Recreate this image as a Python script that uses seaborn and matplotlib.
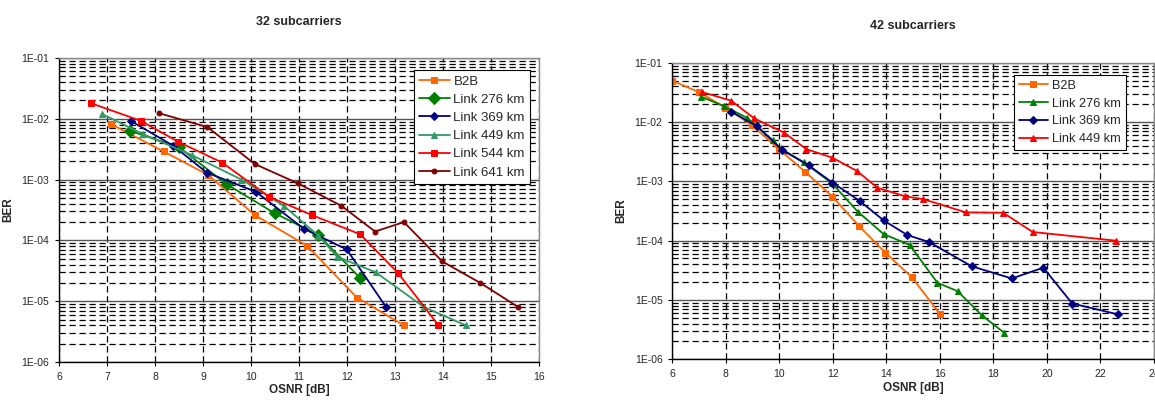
import numpy as np
import matplotlib
matplotlib.use("Agg")
import matplotlib.pyplot as plt
import seaborn as sns
from matplotlib.ticker import LogLocator, FixedLocator, FuncFormatter, NullFormatter

# ---- data: 32 subcarriers ----
b2b_32_x = [7.08, 8.18, 9.1, 10.08, 11.17, 12.2, 13.18]
b2b_32_y = [8.2e-3, 2.9e-3, 1.2e-3, 2.6e-4, 8.1e-5, 1.15e-5, 4e-6]
l276_32_x = [7.49, 8.5, 9.49, 10.49, 11.4, 12.27]
l276_32_y = [6.3e-3, 3.4e-3, 8.4e-4, 2.8e-4, 1.23e-4, 2.4e-5]
l369_32_x = [7.51, 8.38, 9.08, 10.1, 11.1, 11.99, 12.81]
l369_32_y = [9.1e-3, 3.6e-3, 1.3e-3, 6.3e-4, 1.55e-4, 7.1e-5, 8e-6]
l449_32_x = [6.9, 7.75, 8.78, 9.8, 10.68, 11.4, 11.79, 12.59, 13.6, 14.47]
l449_32_y = [1.2e-2, 5.6e-3, 2.5e-3, 1e-3, 3.7e-4, 1.2e-4, 5.4e-5, 3e-5, 8e-6, 4e-6]
l544_32_x = [6.67, 7.7, 8.48, 9.4, 10.38, 11.27, 12.27, 13.06, 13.9]
l544_32_y = [1.8e-2, 9.3e-3, 4.2e-3, 1.9e-3, 5.2e-4, 2.6e-4, 1.26e-4, 2.9e-5, 4e-6]
l641_32_x = [8.08, 9.09, 10.08, 10.97, 11.88, 12.58, 13.18, 13.98, 14.77, 15.56]
l641_32_y = [1.24e-2, 7.3e-3, 1.8e-3, 8.7e-4, 3.7e-4, 1.4e-4, 2.0e-4, 4.5e-5, 2e-5, 8e-6]

# ---- data: 42 subcarriers ----
b2b_42_x = [6.0, 7.0, 7.99, 8.99, 9.98, 10.97, 11.99, 12.98, 13.96, 14.96, 15.99]
b2b_42_y = [5e-2, 3.2e-2, 1.75e-2, 8.8e-3, 3.5e-3, 1.45e-3, 5.5e-4, 1.77e-4, 6.3e-5, 2.4e-5, 5.9e-6]
l276_42_x = [7.06, 7.93, 8.8, 9.77, 10.05, 10.91, 11.97, 12.93, 13.9, 14.87, 15.91, 16.67, 17.57, 18.4]
l276_42_y = [2.7e-2, 1.86e-2, 1.18e-2, 4.9e-3, 3.6e-3, 2.1e-3, 9.3e-4, 3.1e-4, 1.29e-4, 8.5e-5,
             1.95e-5, 1.4e-5, 5.5e-6, 2.8e-6]
l369_42_x = [8.21, 9.17, 10.1, 11.1, 11.99, 13.0, 13.9, 14.79, 15.59, 17.19, 18.69, 19.87, 20.95, 22.66]
l369_42_y = [1.5e-2, 8.5e-3, 3.4e-3, 1.86e-3, 9.5e-4, 4.7e-4, 2.2e-4, 1.24e-4, 9.5e-5, 3.7e-5,
             2.3e-5, 3.5e-5, 8.7e-6, 5.7e-6]
l449_42_x = [7.12, 8.2, 9.07, 10.19, 11.01, 11.99, 12.9, 13.67, 14.7, 15.39, 16.97, 18.37, 19.47, 22.57]
l449_42_y = [3.2e-2, 2.3e-2, 1.15e-2, 6.6e-3, 3.5e-3, 2.5e-3, 1.5e-3, 7.8e-4, 5.6e-4, 5e-4,
             3e-4, 2.95e-4, 1.4e-4, 1e-4]

series_32 = [
    ("B2B", b2b_32_x, b2b_32_y, "#FF6600", "s", 4),
    ("Link 276 km", l276_32_x, l276_32_y, "#008000", "D", 6),
    ("Link 369 km", l369_32_x, l369_32_y, "#000080", "D", 4.5),
    ("Link 449 km", l449_32_x, l449_32_y, "#339966", "^", 5),
    ("Link 544 km", l544_32_x, l544_32_y, "#FF0000", "s", 4.5),
    ("Link 641 km", l641_32_x, l641_32_y, "#800000", "o", 3.5),
]
series_42 = [
    ("B2B", b2b_42_x, b2b_42_y, "#FF6600", "s", 4.5),
    ("Link 276 km", l276_42_x, l276_42_y, "#008000", "^", 5),
    ("Link 369 km", l369_42_x, l369_42_y, "#000080", "D", 4.5),
    ("Link 449 km", l449_42_x, l449_42_y, "#FF0000", "^", 5),
]

sns.set_style("white")
plt.rcParams['font.family'] = ['Liberation Sans', 'DejaVu Sans']

fig = plt.figure(figsize=(11.55, 4), dpi=100)
ax1 = fig.add_axes([0.051, 0.095, 0.416, 0.76])
ax2 = fig.add_axes([0.582, 0.102, 0.417, 0.741])


def style_axes(ax, xlim, xstep, title, legend_anchor, fsize):
    ax.set_yscale("log")
    ax.set_ylim(1e-6, 1e-1)
    ax.set_xlim(*xlim)
    ax.xaxis.set_major_locator(FixedLocator(np.arange(xlim[0], xlim[1] + 0.01, xstep)))
    ax.yaxis.set_major_locator(FixedLocator([1e-6, 1e-5, 1e-4, 1e-3, 1e-2, 1e-1]))
    ax.yaxis.set_minor_locator(LogLocator(base=10, subs=np.arange(2, 10), numticks=20))
    ax.yaxis.set_minor_formatter(NullFormatter())
    ax.yaxis.set_major_formatter(FuncFormatter(lambda v, p: "1E-%02d" % round(-np.log10(v))))
    ax.xaxis.set_major_formatter(FuncFormatter(lambda v, p: "%d" % v))
    ax.grid(False)
    ax.grid(True, which="major", axis="y", color="#555555", lw=1.0, ls="-")
    ax.grid(True, which="minor", axis="y", color="black", lw=0.9, ls=(0, (5, 3)))
    ax.grid(True, which="major", axis="x", color="black", lw=0.9, ls=(0, (5, 3)))
    ax.set_axisbelow(True)
    ax.tick_params(axis="both", which="major", labelsize=7.5, length=3, width=0.8,
                   direction="out", color="black", left=True, bottom=True, pad=4)
    ax.tick_params(axis="y", which="minor", length=0)
    for side in ["top", "right"]:
        ax.spines[side].set_color("#888888")
        ax.spines[side].set_linewidth(1.0)
    for side in ["left", "bottom"]:
        ax.spines[side].set_color("black")
        ax.spines[side].set_linewidth(1.0)
    ax.set_xlabel("OSNR [dB]", fontsize=8.5, fontweight="bold", labelpad=2)
    ax.set_ylabel("BER", fontsize=8.5, fontweight="bold", labelpad=5)
    ax.set_title(title, fontsize=9, fontweight="bold", pad=24)
    leg = ax.legend(loc="upper right", bbox_to_anchor=legend_anchor, fontsize=fsize,
                    frameon=True, fancybox=False, borderpad=0.4, labelspacing=0.45,
                    handlelength=2.3, handletextpad=0.3, borderaxespad=0)
    leg.get_frame().set_edgecolor("black")
    leg.get_frame().set_linewidth(0.8)
    leg.get_frame().set_alpha(1)


for name, xs, ys, col, mk, ms in series_32:
    sns.lineplot(x=xs, y=ys, ax=ax1, color=col, marker=mk, markersize=ms,
                 markeredgecolor=col, lw=1.3, label=name, sort=False)
for name, xs, ys, col, mk, ms in series_42:
    sns.lineplot(x=xs, y=ys, ax=ax2, color=col, marker=mk, markersize=ms,
                 markeredgecolor=col, lw=1.3, label=name, sort=False)

style_axes(ax1, (6, 16), 1, "32 subcarriers", (0.981, 0.96), 9.5)
style_axes(ax2, (6, 24), 2, "42 subcarriers", (0.942, 0.96), 9.2)

fig.savefig("out.png", dpi=100)
